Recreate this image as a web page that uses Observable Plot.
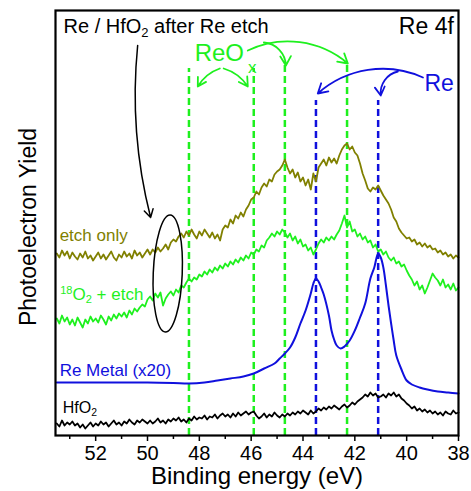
<!DOCTYPE html>
<html><head><meta charset="utf-8">
<script src="https://cdn.jsdelivr.net/npm/d3@7"></script>
<script src="https://cdn.jsdelivr.net/npm/@observablehq/plot@0.6"></script>
<style>body{margin:0;background:#fff} svg{display:block}</style>
</head><body><div id="chart"></div>
<script>
// Spectra sampled every 0.1 eV from 53.5 eV down to 38.0 eV (arbitrary yield units)
const etchOnly = [
 182,178,185,180,184,177,
 183,179,176,182,178,184,177,180,175,179,
 183,177,181,176,180,184,178,175,181,178,
 184,179,182,177,185,180,183,178,182,186,
 181,186,183,188,184,187,191,186,193,196,
 194,199,202,198,204,200,206,201,197,204,
 200,206,202,198,203,197,201,195,206,210,
 208,216,212,220,217,223,219,226,230,236,
 238,244,241,248,252,249,256,254,261,264,
 266,270,276,268,262,266,258,263,254,258,
 250,256,246,262,254,268,272,276,270,278,
 273,277,272,280,286,290,292,286,289,283,
 280,272,262,255,247,244,248,246,250,245,
 240,236,232,226,218,214,207,203,200,197,
 198,194,196,191,193,189,192,188,190,186,
 187,183,185,181,183,179,181,177,180,178];
const o18Etch = [
 117,112,120,114,118,111,
 116,110,118,113,108,116,112,119,114,117,
 113,120,116,111,119,115,121,117,122,119,
 123,118,125,121,127,124,128,131,129,136,
 139,135,142,138,143,130,137,141,144,140,
 146,143,150,148,153,157,154,158,156,161,
 159,164,161,166,163,168,165,170,167,172,
 169,174,171,176,173,178,175,180,177,183,
 181,186,184,190,188,195,198,202,199,204,
 201,206,203,198,202,195,199,192,196,189,
 191,185,188,181,186,192,196,193,198,195,
 199,196,201,205,212,220,208,214,204,206,
 199,202,196,199,193,195,188,191,184,186,
 181,184,178,175,178,172,174,169,171,165,
 160,156,150,154,146,150,142,148,155,162,
 158,155,150,156,148,151,146,152,145,148];
const hfo2 = [
 12,9,15,10,13,11,
 14,10,12,8,11,7,10,13,9,12,
 10,14,11,13,9,12,15,11,13,10,
 14,12,16,13,11,15,13,16,14,12,
 15,12,14,17,13,15,12,16,14,17,
 15,18,14,16,13,17,15,19,16,18,
 17,20,16,19,18,21,17,20,22,19,
 21,18,22,19,23,20,22,24,21,23,
 24,20,17,19,22,18,21,19,23,20,
 18,21,19,22,20,23,21,24,22,25,
 23,21,25,22,24,27,25,28,26,29,
 27,30,28,26,29,31,28,30,33,31,
 34,36,38,41,39,43,40,42,38,39,
 41,38,42,40,43,39,41,37,35,32,
 30,27,29,25,27,24,26,23,25,22,
 24,21,23,20,24,22,21,25,22,23];
// Re metal (x20), smooth curve
const reMetalE = [53.5,52,50,49,48.4,47.8,47.3,46.8,46.3,45.9,45.5,45.1,44.9,44.7,44.5,44.3,44.1,43.9,43.7,43.6,43.5,43.4,43.3,43.2,43.0,42.9,42.8,42.7,42.55,42.4,42.2,42.0,41.8,41.6,41.4,41.25,41.1,41.0,40.9,40.8,40.7,40.6,40.5,40.4,40.2,40.0,39.8,39.5,39.2,38.8,38.4,38.0];
const reMetalY = [53,53,53,52.5,52,53,55,57,59,62,67,72,77,82,88,98,112,125,142,152,157,154,148,141,120,105,96,90,87,89,95,105,118,132,157,168,182,178,168,150,130,112,95,80,66,55,51,48,46,44,43,42];
const reoxLines = [48.4, 45.9, 44.7, 42.3];
const reLines = [43.5, 41.1];
const xTicks = [52, 50, 48, 46, 44, 42, 40, 38];
const xMinorTicks = [53, 51, 49, 47, 45, 43, 41, 39];

const OLIVE = "#808000", GREEN = "#1ef01e", BLUE = "#1010dd";
const energies = etchOnly.map((_, i) => Math.round((53.5 - 0.1 * i) * 10) / 10);
const rows = (vals) => vals.map((v, i) => ({e: energies[i], v}));
const reRows = reMetalE.map((e, i) => ({e, v: reMetalY[i]}));

const arrows = [
  {x1: 47.21, y1: 367, x2: 48.06, y2: 349, bend: -20, c: GREEN},
  {x1: 47.06, y1: 367, x2: 46.13, y2: 349, bend: 20, c: GREEN},
  {x1: 46.13, y1: 385, x2: 42.27, y2: 372, bend: 33, c: GREEN},
  {x1: 45.51, y1: 393, x2: 44.66, y2: 370, bend: 42, c: GREEN},
  {x1: 39.37, y1: 358, x2: 43.43, y2: 342, bend: -33, c: BLUE},
  {x1: 40.34, y1: 364, x2: 41.0, y2: 340, bend: -42, c: BLUE},
  {x1: 50.38, y1: 390, x2: 49.88, y2: 218, bend: -10, c: "black", w: 1.5}
];

const labels = [
  {x: 53.24, y: 409, t: "Re / HfO_{2} after Re etch", c: "black", s: 20, a: "start"},
  {x: 38.18, y: 409, t: "Re 4f", c: "black", s: 23, a: "end"},
  {x: 48.18, y: 382, t: "ReO", c: GREEN, s: 24, a: "start"},
  {x: 46.12, y: 368, t: "x", c: GREEN, s: 17, a: "start"},
  {x: 38.18, y: 352, t: "Re", c: BLUE, s: 23, a: "end"},
  {x: 53.39, y: 200, t: "etch only", c: OLIVE, s: 17, a: "start"},
  {x: 53.37, y: 141, t: "^{18}O_{2} + etch", c: GREEN, s: 17, a: "start"},
  {x: 53.39, y: 65, t: "Re Metal (x20)", c: BLUE, s: 17, a: "start"},
  {x: 53.27, y: 28, t: "HfO_{2}", c: "black", s: 16, a: "start"}
];

const chart = Plot.plot({
  width: 471, height: 491,
  marginLeft: 55, marginRight: 13, marginTop: 10, marginBottom: 56,
  style: {fontFamily: "'Liberation Sans', Arial, sans-serif", background: "white", color: "black"},
  x: {domain: [53.55, 38], axis: null},
  y: {domain: [0, 425], axis: null},
  marks: [
    Plot.ruleX(reoxLines, {y1: 0, y2: (d, i) => i < 2 ? 367 : 370, stroke: GREEN, strokeWidth: 2.5, strokeDasharray: "7,4"}),
    Plot.ruleX(reLines, {y1: 0, y2: 335, stroke: BLUE, strokeWidth: 2.5, strokeDasharray: "7,4"}),
    Plot.line(rows(hfo2), {x: "e", y: "v", stroke: "black", strokeWidth: 1.8}),
    Plot.line(reRows, {x: "e", y: "v", stroke: BLUE, strokeWidth: 2, curve: "catmull-rom"}),
    Plot.line(rows(o18Etch), {x: "e", y: "v", stroke: GREEN, strokeWidth: 1.8}),
    Plot.line(rows(etchOnly), {x: "e", y: "v", stroke: OLIVE, strokeWidth: 1.8}),
    ...arrows.map(a => Plot.arrow([a], {x1: "x1", y1: "y1", x2: "x2", y2: "y2", bend: a.bend, stroke: a.c, strokeWidth: a.w || 1.8, headLength: 9})),
    ...labels.map(l => Plot.text([l], {x: "x", y: "y", text: "t", fill: l.c, fontSize: l.s, textAnchor: l.a})),
    Plot.frame({stroke: "black", strokeWidth: 2.2}),
    Plot.axisX(xTicks, {tickSize: 6, tickPadding: 4, fontSize: 20, label: null, strokeWidth: 1.5}),
    Plot.axisX(xMinorTicks, {tickSize: 4, tickFormat: () => "", label: null, strokeWidth: 1.5}),
    Plot.text(["Binding energy (eV)"], {frameAnchor: "bottom", lineAnchor: "middle", textAnchor: "middle", dy: 41, fontSize: 24}),
    Plot.text(["Photoelectron Yield"], {frameAnchor: "left", lineAnchor: "middle", textAnchor: "middle", rotate: -90, dx: -27, dy: 4, fontSize: 23})
  ]
});

// sub/superscripts
d3.select(chart).selectAll("text").each(function() {
  const t = this.textContent;
  if (!/[_^]\{/.test(t)) return;
  const parts = t.split(/([_^]\{[^}]*\})/);
  this.textContent = "";
  for (const p of parts) {
    if (!p) continue;
    const m = p.match(/^([_^])\{([^}]*)\}$/);
    const ts = document.createElementNS("http://www.w3.org/2000/svg", "tspan");
    if (m) {
      ts.textContent = m[2];
      ts.setAttribute("font-size", "65%");
      ts.setAttribute("baseline-shift", m[1] === "_" ? "-30%" : "55%");
    } else ts.textContent = p;
    this.appendChild(ts);
  }
});

// highlight ellipse
const sx = chart.scale("x"), sy = chart.scale("y");
const cx = sx.apply(49.2), cy = sy.apply(161.5);
d3.select(chart).append("ellipse")
  .attr("cx", cx).attr("cy", cy).attr("rx", 14.5).attr("ry", 58.5)
  .attr("transform", `rotate(2.4 ${cx} ${cy})`)
  .attr("fill", "none").attr("stroke", "black").attr("stroke-width", 1.5);

document.getElementById("chart").appendChild(chart);
</script>
</body></html>
